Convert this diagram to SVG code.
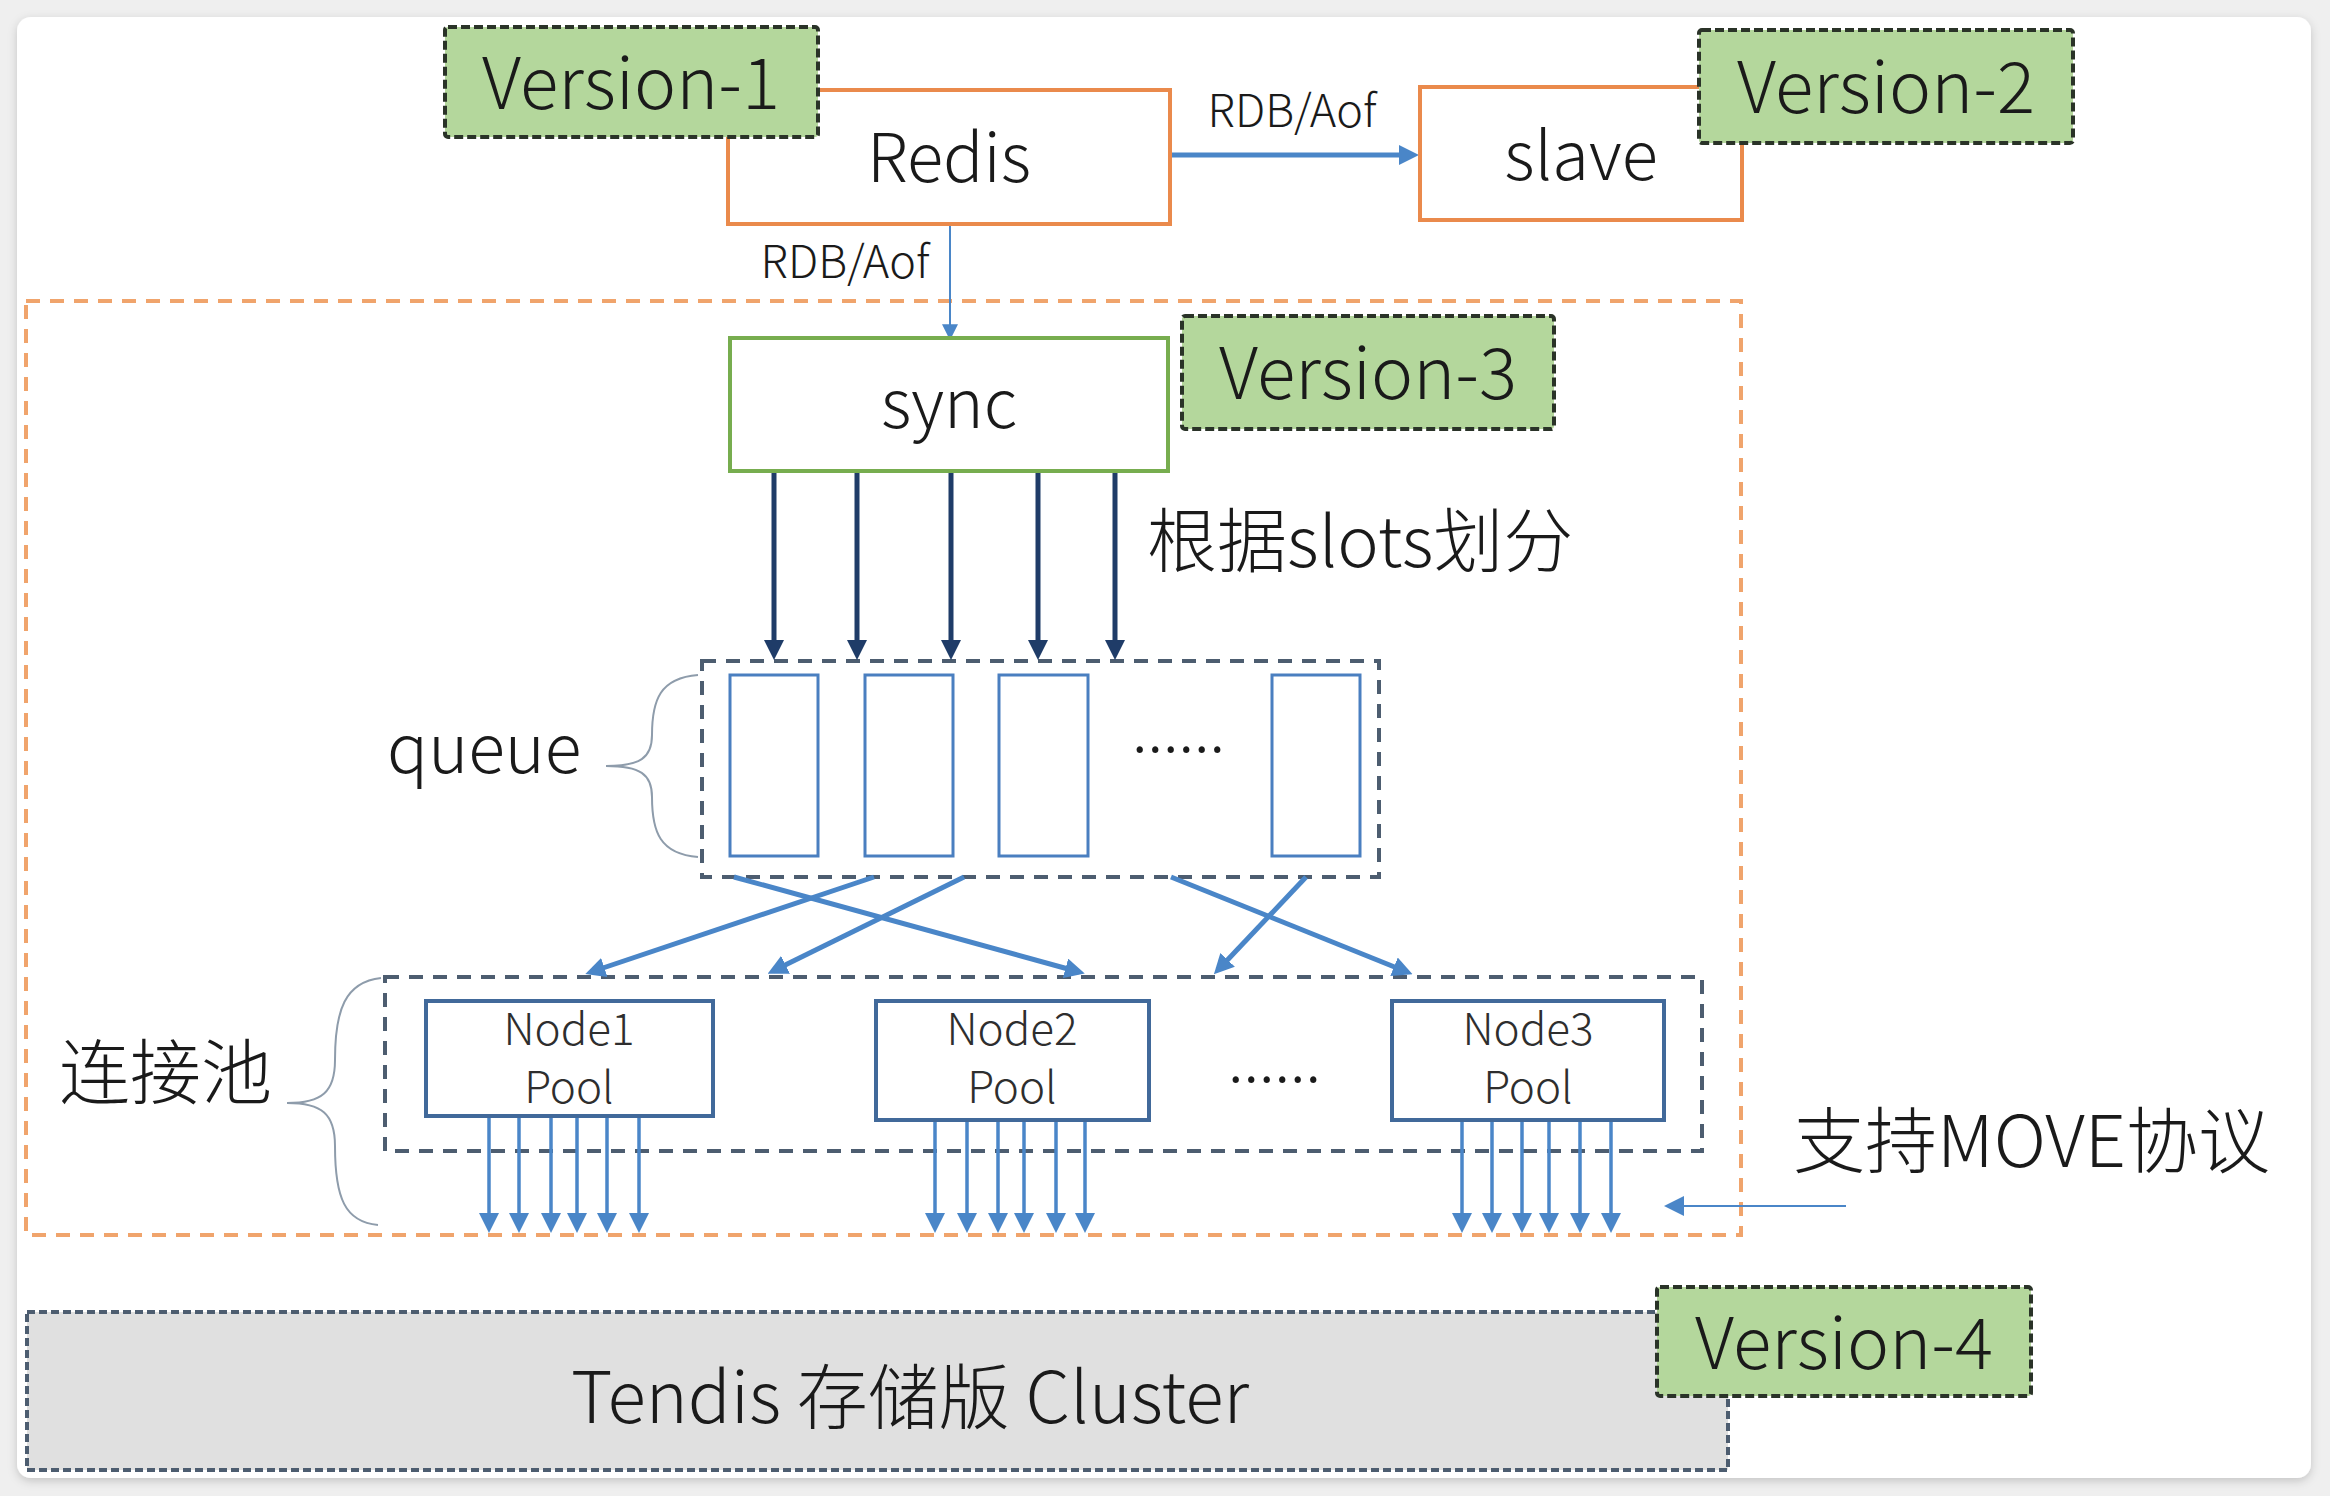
<svg xmlns="http://www.w3.org/2000/svg" width="2330" height="1496" viewBox="0 0 2330 1496">
<style>
text{font-family:"Noto Sans CJK SC","Noto Sans",sans-serif;fill:#1a1a1a;font-weight:300}
.ver{fill:#b4d79c;stroke:#2a3328;stroke-width:4;stroke-dasharray:9 4}
.vt{font-size:71px;text-anchor:middle}
.orange{fill:#fff;stroke:#ea8a4c;stroke-width:4}
.green{fill:#fff;stroke:#77ad4f;stroke-width:4}
.dash{fill:none;stroke:#4d5d70;stroke-width:4;stroke-dasharray:14 10}
.q{fill:#fff;stroke:#4a7fc0;stroke-width:3}
.node{fill:#fff;stroke:#41699a;stroke-width:4}
.nt{font-size:44px;text-anchor:middle;fill:#2e2e2e}
.navy{stroke:#1f3c68;stroke-width:5;fill:none}
.blue{stroke:#4a86c8;fill:none}
.brace{fill:none;stroke:#8e9cab;stroke-width:2}
</style>
<defs>
<filter id="sh" x="-5%" y="-5%" width="110%" height="110%">
<feDropShadow dx="0" dy="3" stdDeviation="5" flood-color="#000" flood-opacity="0.18"/>
</filter>
<marker id="mNavy" viewBox="0 0 20 20" markerWidth="20" markerHeight="20" refX="14" refY="10" orient="auto" markerUnits="userSpaceOnUse"><path d="M0,0 L20,10 L0,20 z" fill="#1f3c68"/></marker>
<marker id="mBlue" viewBox="0 0 20 20" markerWidth="20" markerHeight="20" refX="14" refY="10" orient="auto" markerUnits="userSpaceOnUse"><path d="M0,0 L20,10 L0,20 z" fill="#4a86c8"/></marker>
<marker id="mBlueS" viewBox="0 0 20 20" markerWidth="16" markerHeight="16" refX="16" refY="10" orient="auto" markerUnits="userSpaceOnUse"><path d="M0,0 L20,10 L0,20 z" fill="#4a86c8"/></marker>
</defs>
<rect x="0" y="0" width="2330" height="1496" fill="#efefef"/>
<rect x="17" y="17" width="2294" height="1461" rx="14" fill="#fff" filter="url(#sh)"/>

<g id="containers">
<rect id="sync-area" x="26" y="301" width="1715" height="934" fill="none" stroke="#f0a46c" stroke-width="4" stroke-dasharray="14 10"/>
<rect id="queue-group" class="dash" x="702" y="661" width="677" height="216"/>
<rect id="pool-group" class="dash" x="385" y="977" width="1317" height="174"/>
</g>

<g id="connectors">
<line class="blue" x1="1170" y1="155" x2="1413" y2="155" stroke-width="5" marker-end="url(#mBlue)"/>
<line class="blue" x1="950" y1="224" x2="950" y2="337" stroke-width="2" marker-end="url(#mBlueS)"/>
<line class="navy" x1="774" y1="471" x2="774" y2="654" marker-end="url(#mNavy)"/>
<line class="navy" x1="857" y1="471" x2="857" y2="654" marker-end="url(#mNavy)"/>
<line class="navy" x1="951" y1="471" x2="951" y2="654" marker-end="url(#mNavy)"/>
<line class="navy" x1="1038" y1="471" x2="1038" y2="654" marker-end="url(#mNavy)"/>
<line class="navy" x1="1115" y1="471" x2="1115" y2="654" marker-end="url(#mNavy)"/>
<g stroke-width="5">
<line class="blue" x1="734" y1="877" x2="1079" y2="972" marker-end="url(#mBlue)"/>
<line class="blue" x1="874" y1="877" x2="591" y2="972" marker-end="url(#mBlue)"/>
<line class="blue" x1="964" y1="877" x2="773" y2="971" marker-end="url(#mBlue)"/>
<line class="blue" x1="1171" y1="877" x2="1407" y2="972" marker-end="url(#mBlue)"/>
<line class="blue" x1="1306" y1="877" x2="1218" y2="970" marker-end="url(#mBlue)"/>
</g>
<g stroke-width="3.5">
<line class="blue" x1="489" y1="1111" x2="489" y2="1227" marker-end="url(#mBlue)"/>
<line class="blue" x1="519" y1="1111" x2="519" y2="1227" marker-end="url(#mBlue)"/>
<line class="blue" x1="551" y1="1111" x2="551" y2="1227" marker-end="url(#mBlue)"/>
<line class="blue" x1="577" y1="1111" x2="577" y2="1227" marker-end="url(#mBlue)"/>
<line class="blue" x1="607" y1="1111" x2="607" y2="1227" marker-end="url(#mBlue)"/>
<line class="blue" x1="639" y1="1111" x2="639" y2="1227" marker-end="url(#mBlue)"/>
<line class="blue" x1="935" y1="1114" x2="935" y2="1227" marker-end="url(#mBlue)"/>
<line class="blue" x1="967" y1="1114" x2="967" y2="1227" marker-end="url(#mBlue)"/>
<line class="blue" x1="998" y1="1114" x2="998" y2="1227" marker-end="url(#mBlue)"/>
<line class="blue" x1="1024" y1="1114" x2="1024" y2="1227" marker-end="url(#mBlue)"/>
<line class="blue" x1="1056" y1="1114" x2="1056" y2="1227" marker-end="url(#mBlue)"/>
<line class="blue" x1="1085" y1="1114" x2="1085" y2="1227" marker-end="url(#mBlue)"/>
<line class="blue" x1="1462" y1="1114" x2="1462" y2="1227" marker-end="url(#mBlue)"/>
<line class="blue" x1="1492" y1="1114" x2="1492" y2="1227" marker-end="url(#mBlue)"/>
<line class="blue" x1="1522" y1="1114" x2="1522" y2="1227" marker-end="url(#mBlue)"/>
<line class="blue" x1="1549" y1="1114" x2="1549" y2="1227" marker-end="url(#mBlue)"/>
<line class="blue" x1="1580" y1="1114" x2="1580" y2="1227" marker-end="url(#mBlue)"/>
<line class="blue" x1="1611" y1="1114" x2="1611" y2="1227" marker-end="url(#mBlue)"/>
</g>
<line class="blue" x1="1846" y1="1206" x2="1670" y2="1206" stroke-width="2" marker-end="url(#mBlue)"/>
<path class="brace" d="M698,675 C660,678 652,700 652,735 C652,758 640,766 606,766 C640,766 652,774 652,797 C652,832 660,854 698,857"/>
<path class="brace" d="M381,978 C345,982 335,1010 335,1060 C335,1092 322,1103 287,1103 C322,1103 335,1114 335,1146 C335,1198 345,1222 378,1225"/>
<text x="1292" y="127" font-size="45" text-anchor="middle">RDB/Aof</text>
<text x="845" y="278" font-size="45" text-anchor="middle">RDB/Aof</text>
<text x="1147" y="567" font-size="70">根据slots划分</text>
<text x="387" y="773" font-size="68">queue</text>
<text x="59" y="1098" font-size="71">连接池</text>
<text x="1793" y="1167" font-size="72">支持MOVE协议</text>
</g>

<g id="redis"><rect class="orange" x="728" y="90" width="442" height="134"/><text x="949" y="182" font-size="67" text-anchor="middle">Redis</text></g>
<g id="slave"><rect class="orange" x="1420" y="87" width="322" height="133"/><text x="1581" y="180" font-size="67" text-anchor="middle">slave</text></g>
<g id="version-1"><rect class="ver" x="445" y="27" width="373" height="110" rx="3"/><text class="vt" x="631" y="109">Version-1</text></g>
<g id="version-2"><rect class="ver" x="1699" y="30" width="374" height="113" rx="3"/><text class="vt" x="1886" y="113">Version-2</text></g>
<g id="sync"><rect class="green" x="730" y="338" width="438" height="133"/><text x="949" y="428" font-size="67" text-anchor="middle">sync</text></g>
<g id="version-3"><rect class="ver" x="1182" y="316" width="372" height="113" rx="3"/><text class="vt" x="1368" y="399">Version-3</text></g>
<g id="queues">
<rect class="q" x="730" y="675" width="88" height="181"/>
<rect class="q" x="865" y="675" width="88" height="181"/>
<rect class="q" x="999" y="675" width="89" height="181"/>
<rect class="q" x="1272" y="675" width="88" height="181"/>
<text x="1132" y="752" font-size="62">......</text>
</g>
<g id="node1"><rect class="node" x="426" y="1001" width="287" height="115"/><text class="nt" x="569" y="1045">Node1</text><text class="nt" x="569" y="1103">Pool</text></g>
<g id="node2"><rect class="node" x="876" y="1001" width="273" height="119"/><text class="nt" x="1012" y="1045">Node2</text><text class="nt" x="1012" y="1103">Pool</text></g>
<g id="node3"><rect class="node" x="1392" y="1001" width="272" height="119"/><text class="nt" x="1528" y="1045">Node3</text><text class="nt" x="1528" y="1103">Pool</text></g>
<text x="1228" y="1082" font-size="62">......</text>
<g id="tendis"><rect x="27" y="1312" width="1701" height="158" fill="#e0e0e0" stroke="#4d5d70" stroke-width="4" stroke-dasharray="8 4"/><text x="910" y="1423" font-size="71" text-anchor="middle">Tendis 存储版 Cluster</text></g>
<g id="version-4"><rect class="ver" x="1657" y="1287" width="374" height="109" rx="3"/><text class="vt" x="1844" y="1369">Version-4</text></g>
</svg>
